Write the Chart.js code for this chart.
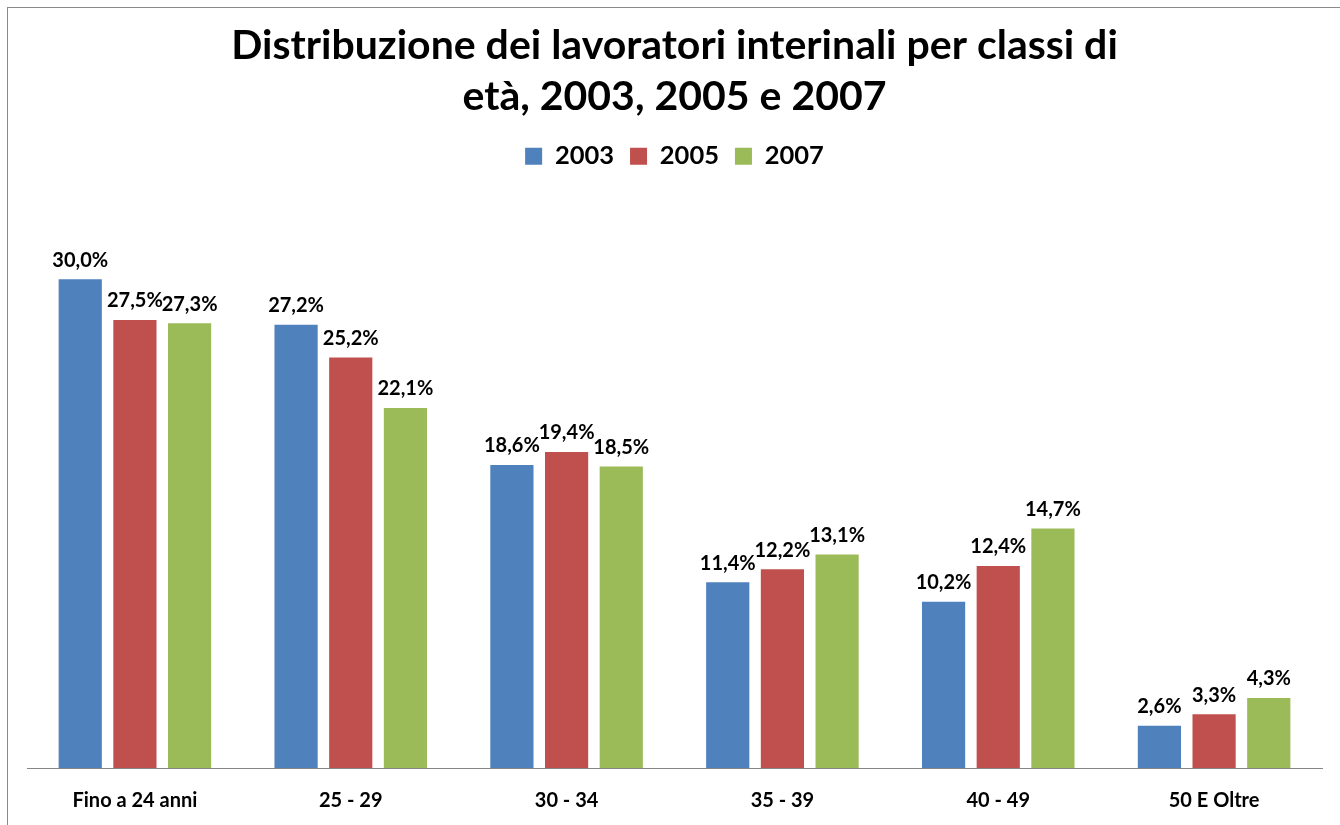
<!DOCTYPE html>
<html>
<head>
<meta charset="utf-8">
<script src="https://cdn.jsdelivr.net/npm/chart.js@4"></script>
<style>
html,body{margin:0;padding:0;background:#fff;overflow:hidden;width:1340px;height:825px;}
#frame{position:absolute;left:7px;top:7px;width:1400px;height:900px;border:1px solid #8a8a8a;box-sizing:border-box;}
#wrap{position:absolute;left:0;top:0;width:1340px;height:847px;}
</style>
</head>
<body>
<div id="frame"></div>
<div id="wrap"><canvas id="c" width="1340" height="847"></canvas></div>
<script>
const categories = ["Fino a 24 anni", "25 - 29", "30 - 34", "35 - 39", "40 - 49", "50 E Oltre"];
const seriesNames = ["2003", "2005", "2007"];
const values2003 = [30.0, 27.2, 18.6, 11.4, 10.2, 2.6];
const values2005 = [27.5, 25.2, 19.4, 12.2, 12.4, 3.3];
const values2007 = [27.3, 22.1, 18.5, 13.1, 14.7, 4.3];
const colors = ["#4F81BD", "#C0504D", "#9BBB59"];

const FONT = "Lato, 'Open Sans', sans-serif";

const labelPlugin = {
  id: 'barLabels',
  afterDatasetsDraw(chart) {
    const ctx = chart.ctx;
    ctx.save();
    ctx.font = "bold 20px " + FONT;
    ctx.fillStyle = "#000";
    ctx.textAlign = "center";
    ctx.textBaseline = "middle";
    chart.data.datasets.forEach((ds, i) => {
      const meta = chart.getDatasetMeta(i);
      meta.data.forEach((bar, j) => {
        const v = ds.data[j];
        const txt = v.toFixed(1).replace('.', ',') + '%';
        ctx.fillText(txt, bar.x, bar.y - 19);
      });
    });
    ctx.restore();
  }
};

new Chart(document.getElementById('c'), {
  type: 'bar',
  data: {
    labels: categories,
    datasets: [
      { label: seriesNames[0], data: values2003, backgroundColor: colors[0] },
      { label: seriesNames[1], data: values2005, backgroundColor: colors[1] },
      { label: seriesNames[2], data: values2007, backgroundColor: colors[2] }
    ]
  },
  options: {
    responsive: false,
    animation: false,
    devicePixelRatio: 1,
    layout: { padding: { left: 27, right: 18, top: 0, bottom: 13 } },
    datasets: { bar: { categoryPercentage: 0.76, barPercentage: 0.79 } },
    scales: {
      x: {
        grid: { display: false, drawTicks: false },
        border: { display: true, color: '#868686', width: 1 },
        ticks: { color: '#000', font: { family: FONT, size: 20, weight: 'bold' }, padding: 21 }
      },
      y: {
        display: false,
        min: 0,
        max: 36.15
      }
    },
    plugins: {
      title: {
        display: true,
        text: ["Distribuzione dei lavoratori interinali per classi di", "età, 2003, 2005 e 2007"],
        color: '#000',
        font: { family: FONT, size: 41, weight: 'bold', lineHeight: 1.25 },
        padding: { top: 20, bottom: 5 }
      },
      legend: {
        display: true,
        position: 'top',
        labels: {
          color: '#000',
          font: { family: FONT, size: 25.5, weight: 'bold' },
          boxWidth: 17,
          boxHeight: 17,
          padding: 16
        }
      },
      tooltip: { enabled: false }
    }
  },
  plugins: [labelPlugin]
});
</script>
</body>
</html>
